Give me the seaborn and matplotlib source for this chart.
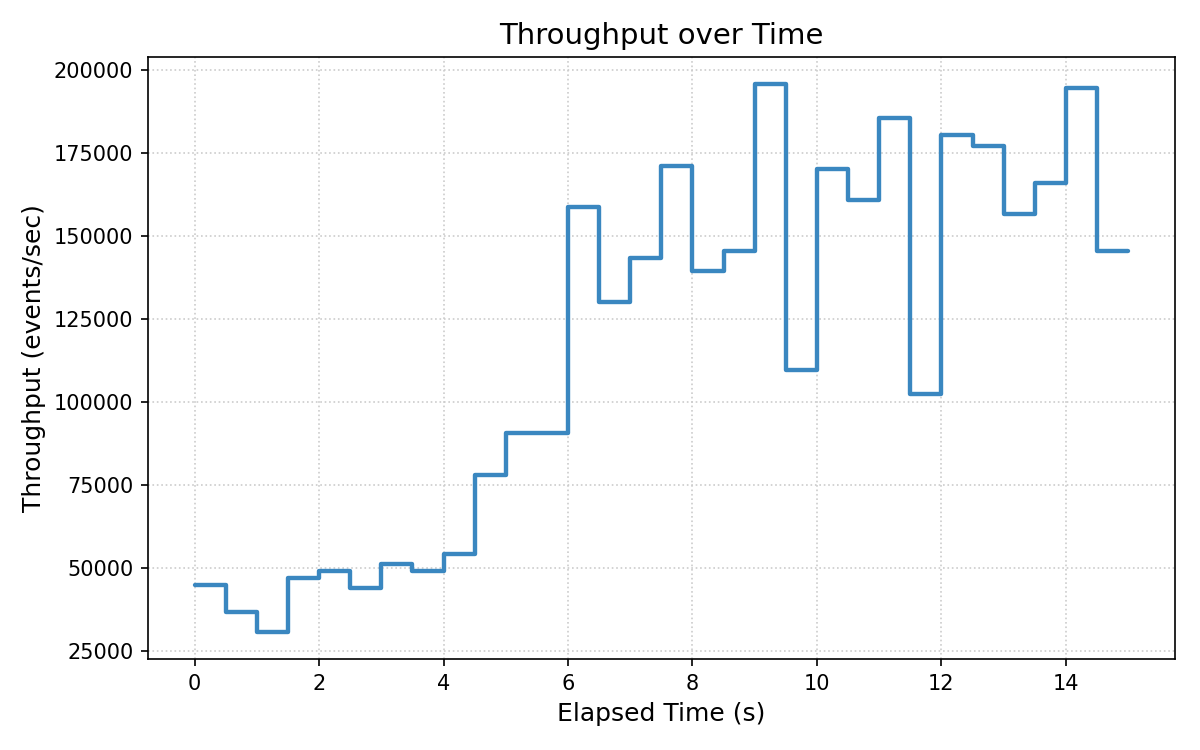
import matplotlib
matplotlib.use("Agg")
import matplotlib.pyplot as plt
import seaborn as sns
import pandas as pd

elapsed_s = [0, 0.5, 1, 1.5, 2, 2.5, 3, 3.5, 4, 4.5, 5, 5.5, 6, 6.5, 7, 7.5,
             8, 8.5, 9, 9.5, 10, 10.5, 11, 11.5, 12, 12.5, 13, 13.5, 14, 14.5, 15]
throughput = [45000, 36800, 30800, 47000, 49200, 43900, 51300, 49200, 54300, 78000,
              90500, 90500, 158700, 130100, 143300, 171100, 139500, 145500, 195600,
              109500, 170200, 160900, 185500, 102500, 180400, 177100, 156600, 166000,
              194600, 145500, 145500]

df = pd.DataFrame({"t": elapsed_s, "tp": throughput})

sns.set_theme(style="ticks", rc={
    "text.color": "black", "axes.labelcolor": "black",
    "xtick.color": "black", "ytick.color": "black",
    "axes.edgecolor": "black",
    "xtick.major.size": 3.5, "ytick.major.size": 3.5,
    "xtick.major.width": 0.8, "ytick.major.width": 0.8,
    "xtick.major.pad": 3.5, "ytick.major.pad": 3.5,
    "axes.linewidth": 0.8,
})
plt.rcParams['font.family'] = ['DejaVu Sans']

fig, ax = plt.subplots(figsize=(8, 5), dpi=150)
sns.lineplot(data=df, x="t", y="tp", ax=ax, color="#3a87c0", linewidth=2.1,
             drawstyle="steps-post")
ax.grid(True, linestyle=":", color="#cccccc", linewidth=0.8)
for s in ax.spines.values():
    s.set_visible(True)
ax.set_xticks([0, 2, 4, 6, 8, 10, 12, 14])
ax.set_yticks([25000, 50000, 75000, 100000, 125000, 150000, 175000, 200000])
ax.tick_params(labelsize=10)
ax.set_title("Throughput over Time", fontsize=14)
ax.set_xlabel("Elapsed Time (s)", fontsize=12)
ax.set_ylabel("Throughput (events/sec)", fontsize=12)
fig.subplots_adjust(left=0.1233, right=0.979, top=0.924, bottom=0.1213)
fig.savefig("out.png")
